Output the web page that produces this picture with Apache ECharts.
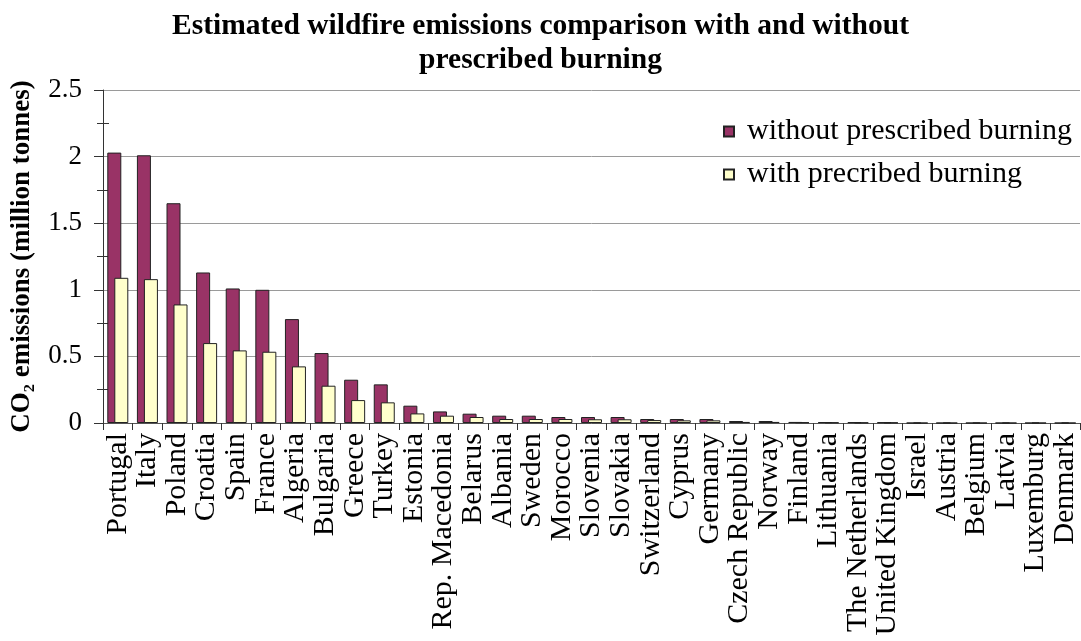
<!DOCTYPE html>
<html>
<head>
<meta charset="utf-8">
<script src="https://cdn.jsdelivr.net/npm/echarts@6/dist/echarts.min.js"></script>
<style>
  html, body { margin: 0; padding: 0; background: #ffffff; }
  #chart { width: 1081px; height: 641px; }
</style>
</head>
<body>
<div id="chart"></div>
<script>
// Countries, ordered by emissions without prescribed burning
const countries = [
  'Portugal', 'Italy', 'Poland', 'Croatia', 'Spain', 'France', 'Algeria',
  'Bulgaria', 'Greece', 'Turkey', 'Estonia', 'Rep. Macedonia', 'Belarus',
  'Albania', 'Sweden', 'Morocco', 'Slovenia', 'Slovakia', 'Switzerland',
  'Cyprus', 'Germany', 'Czech Republic', 'Norway', 'Finland', 'Lithuania',
  'The Netherlands', 'United Kingdom', 'Israel', 'Austria', 'Belgium',
  'Latvia', 'Luxemburg', 'Denmark'
];

// CO2 emissions, million tonnes
const withoutBurning = [
  2.03, 2.01, 1.65, 1.13, 1.01, 1.00, 0.78,
  0.525, 0.325, 0.29, 0.13, 0.087, 0.07,
  0.055, 0.055, 0.045, 0.045, 0.045, 0.03,
  0.03, 0.03, 0.015, 0.015, 0.008, 0.007,
  0.006, 0.005, 0, 0, 0,
  0, 0, 0
];
const withBurning = [
  1.09, 1.08, 0.89, 0.60, 0.545, 0.535, 0.425,
  0.28, 0.172, 0.155, 0.072, 0.055, 0.045,
  0.03, 0.03, 0.03, 0.028, 0.028, 0.022,
  0.02, 0.02, 0.008, 0.008, 0.005, 0.004,
  0.003, 0.003, 0, 0, 0,
  0, 0, 0
];

const seriesNames = ['without prescribed burning', 'with precribed burning'];
const yTicks = { min: 0, max: 2.5, interval: 0.5 };

const serif = '"Liberation Serif", "Times New Roman", serif';

const chart = echarts.init(document.getElementById('chart'), null, { renderer: 'canvas' });

chart.setOption({
  backgroundColor: '#ffffff',
  animation: false,
  title: {
    text: 'Estimated wildfire emissions comparison with and without\nprescribed burning',
    left: 'center',
    top: 4,
    textStyle: {
      fontFamily: serif,
      fontWeight: 'bold',
      fontSize: 29.5,
      lineHeight: 34,
      color: '#000000'
    }
  },
  legend: {
    orient: 'vertical',
    left: 718,
    top: 111,
    itemWidth: 10,
    itemHeight: 10,
    itemGap: 12,
    icon: 'rect',
    data: seriesNames,
    textStyle: {
      fontFamily: serif,
      fontSize: 30,
      lineHeight: 31,
      color: '#000000',
      padding: [0, 0, 0, 8]
    }
  },
  grid: {
    left: 103,
    right: 1,
    top: 90,
    bottom: 218,
    containLabel: false
  },
  xAxis: {
    type: 'category',
    data: countries,
    boundaryGap: true,
    axisLine: { show: true, lineStyle: { color: '#555555', width: 1 } },
    axisTick: { show: true, alignWithLabel: false, interval: 0, length: 7, lineStyle: { color: '#333333' } },
    axisLabel: {
      interval: 0,
      rotate: 90,
      margin: 10,
      fontFamily: serif,
      fontSize: 30,
      color: '#000000'
    },
    splitLine: { show: false }
  },
  yAxis: [
    {
      type: 'value',
      min: yTicks.min,
      max: yTicks.max,
      interval: yTicks.interval,
      name: 'CO\u2082 emissions (million tonnes)',
      nameLocation: 'middle',
      nameGap: 67,
      nameTextStyle: {
        fontFamily: serif,
        fontWeight: 'bold',
        fontSize: 27,
        color: '#000000'
      },
      axisLine: { show: true, lineStyle: { color: '#333333', width: 1 } },
      axisTick: { show: true, length: 9, lineStyle: { color: '#333333' } },
      minorTick: { show: true, splitNumber: 2, length: 6, lineStyle: { color: '#333333' } },
      axisLabel: {
        margin: 21,
        fontFamily: serif,
        fontSize: 27,
        color: '#000000'
      },
      splitLine: { show: true, lineStyle: { color: '#9a9a9a', width: 1 } }
    },
    {
      // companion axis: draws the inward half of the minor ticks
      type: 'value',
      position: 'left',
      min: yTicks.min,
      max: yTicks.max,
      interval: yTicks.interval,
      axisLine: { show: false },
      axisTick: { show: false, inside: true },
      minorTick: { show: true, splitNumber: 2, length: 6, lineStyle: { color: '#333333' } },
      axisLabel: { show: false },
      splitLine: { show: false }
    }
  ],
  series: [
    {
      name: seriesNames[0],
      type: 'bar',
      data: withoutBurning,
      barWidth: 14,
      barGap: '-50%',
      itemStyle: { color: '#993366', borderColor: '#222222', borderWidth: 1 }
    },
    {
      name: seriesNames[1],
      type: 'bar',
      data: withBurning,
      barWidth: 14,
      barGap: '-50%',
      itemStyle: { color: '#FFFFCC', borderColor: '#222222', borderWidth: 1 }
    }
  ]
});
</script>
</body>
</html>
